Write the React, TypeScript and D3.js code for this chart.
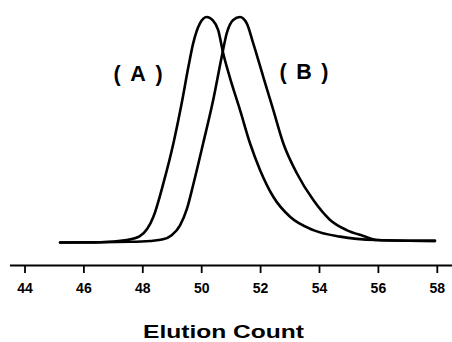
import * as d3 from "d3";
import React, { useRef, useEffect } from "react";

// elution count vs relative response
const peakA: [number, number][] = [
  [45.19, 0], [46.55, 0.001], [47.46, 0.011], [47.9, 0.028], [48.36, 0.114],
  [48.7, 0.263], [49.04, 0.44], [49.32, 0.617], [49.55, 0.78], [49.71, 0.883],
  [49.94, 0.972], [50.17, 1.0], [50.38, 0.985], [50.56, 0.942], [50.73, 0.839],
  [50.96, 0.73], [51.3, 0.588], [51.64, 0.44], [51.98, 0.322], [52.43, 0.203],
  [53.0, 0.114], [53.79, 0.055], [54.7, 0.026], [55.94, 0.011], [57.92, 0.007],
];

const peakB: [number, number][] = [
  [45.19, 0], [47.57, 0.003], [48.25, 0.007], [48.69, 0.014], [48.98, 0.032],
  [49.26, 0.075], [49.5, 0.15], [49.71, 0.255], [50.05, 0.44], [50.39, 0.632],
  [50.68, 0.824], [50.85, 0.928], [51.07, 0.987], [51.3, 1.0], [51.53, 0.972],
  [51.75, 0.883], [52.09, 0.735], [52.43, 0.588], [52.77, 0.44], [53.23, 0.307],
  [53.79, 0.188], [54.36, 0.1], [54.92, 0.055], [55.49, 0.029], [55.94, 0.011],
  [57.92, 0.007],
];

const xTicks = [44, 46, 48, 50, 52, 54, 56, 58];

const labels = [
  { text: "( A )", x: 47.84, y: 0.718 },
  { text: "( B )", x: 53.47, y: 0.727 },
];

const font = "'Liberation Sans', Arial, Helvetica, sans-serif";

const App: React.FC = () => {
  const svgRef = useRef<SVGSVGElement>(null);

  useEffect(() => {
    const svg = d3.select(svgRef.current);
    svg.selectAll("*").remove();

    const width = 452;
    const height = 342;

    const x = d3.scaleLinear().domain([44, 58]).range([25, 437.3]);
    const y = d3.scaleLinear().domain([0, 1]).range([242.5, 17]);
    const axisY = 265.5;

    svg.attr("width", width).attr("height", height)
      .attr("viewBox", `0 0 ${width} ${height}`);

    const line = d3.line<[number, number]>()
      .curve(d3.curveMonotoneX)
      .x(d => x(d[0]))
      .y(d => y(d[1]));

    [peakA, peakB].forEach(data => {
      svg.append("path")
        .datum(data)
        .attr("fill", "none")
        .attr("stroke", "#000")
        .attr("stroke-width", 2.6)
        .attr("stroke-linejoin", "round")
        .attr("stroke-linecap", "round")
        .attr("d", line);
    });

    // axis
    const g = svg.append("g").attr("transform", `translate(0,${axisY})`);
    g.append("line")
      .attr("x1", x(43.49)).attr("x2", x(58.5))
      .attr("stroke", "#000").attr("stroke-width", 2);
    g.selectAll("line.tick")
      .data(xTicks)
      .join("line")
      .attr("class", "tick")
      .attr("x1", d => x(d)).attr("x2", d => x(d))
      .attr("y1", 0).attr("y2", 7.5)
      .attr("stroke", "#000").attr("stroke-width", 1.8);
    g.selectAll("text")
      .data(xTicks)
      .join("text")
      .attr("x", d => x(d))
      .attr("y", 27.2)
      .attr("text-anchor", "middle")
      .attr("font-family", font)
      .attr("font-weight", "bold")
      .attr("font-size", 14)
      .text(d => d);

    svg.append("text")
      .attr("x", 223.5)
      .attr("y", 337.5)
      .attr("text-anchor", "middle")
      .attr("font-family", font)
      .attr("font-weight", "bold")
      .attr("font-size", 18.5)
      .attr("textLength", 161)
      .attr("lengthAdjust", "spacingAndGlyphs")
      .text("Elution Count");

    svg.selectAll("text.peak")
      .data(labels)
      .join("text")
      .attr("class", "peak")
      .attr("x", d => x(d.x))
      .attr("y", d => y(d.y))
      .attr("text-anchor", "middle")
      .attr("font-family", font)
      .attr("font-weight", "bold")
      .attr("font-size", 21.5)
      .attr("textLength", 49)
      .attr("lengthAdjust", "spacing")
      .text(d => d.text);
  }, []);

  return (
    <svg ref={svgRef} style={{ position: "absolute", left: 0, top: 0, background: "#fff" }} />
  );
};

export default App;
